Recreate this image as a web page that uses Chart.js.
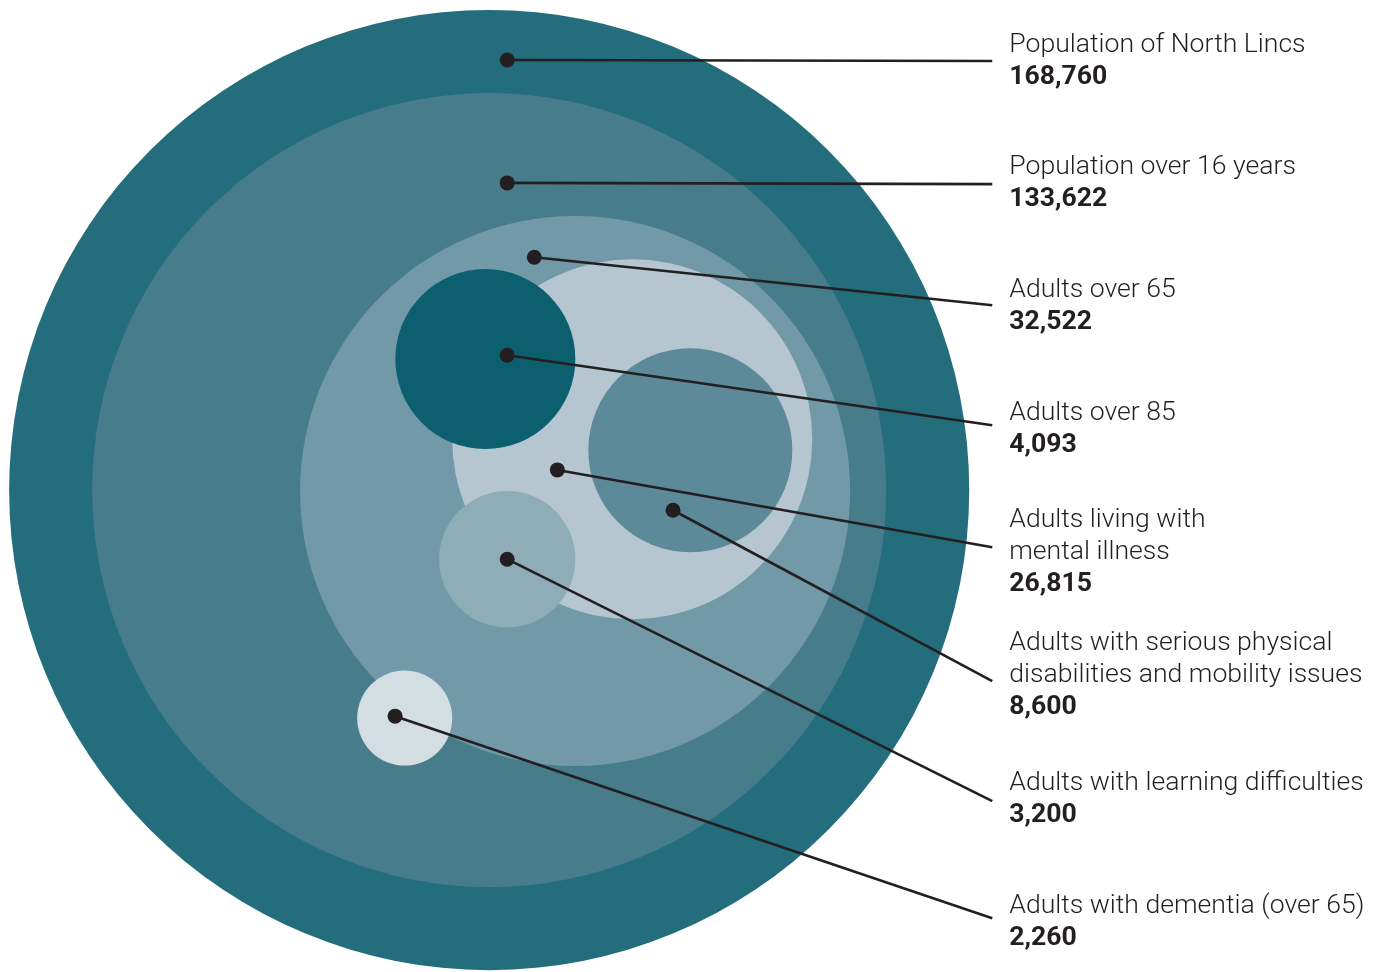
<!DOCTYPE html>
<html>
<head>
<meta charset="utf-8">
<script src="https://cdn.jsdelivr.net/npm/chart.js@4/dist/chart.umd.min.js"></script>
<style>
  html, body { margin: 0; padding: 0; background: #fff; }
  #wrap { width: 1384px; height: 972px; position: relative; }
</style>
</head>
<body>
<div id="wrap"><canvas id="canvasbubbles"></canvas></div>
<script>
// groups, in the order the labels run down the right side
var categories = [
  'Population of North Lincs',
  'Population over 16 years',
  'Adults over 65',
  'Adults over 85',
  'Adults living with mental illness',
  'Adults with serious physical disabilities and mobility issues',
  'Adults with learning difficulties',
  'Adults with dementia (over 65)'
];
var values = [168760, 133622, 32522, 4093, 26815, 8600, 3200, 2260];

// circles, in chart units (outer circle = radius 100, centred on 0,0)
var circleX = [0, 0, 17.9, -0.8, 29.8, 41.9, 3.75, -17.6];
var circleY = [0, 0, -0.2, 27.3, 10.6, 8.3, -14.4, -47.5];
var circleSize = [100, 82.7, 57.3, 18.75, 37.5, 21.25, 14.2, 9.9];

// where each leader line starts (the dot)
var dotX = [3.75, 3.75, 9.4, 3.75, 14.2, 38.3, 3.75, -19.6];
var dotY = [89.6, 64.0, 48.5, 28.1, 4.2, -4.2, -14.4, -47.1];

// label lines shown on the right
var labelLines = [
  ['Population of North Lincs'],
  ['Population over 16 years'],
  ['Adults over 65'],
  ['Adults over 85'],
  ['Adults living with', 'mental illness'],
  ['Adults with serious physical', 'disabilities and mobility issues'],
  ['Adults with learning difficulties'],
  ['Adults with dementia (over 65)']
];

// layout / style
var colors = ['#246d7d', '#477c8b', '#7199a7', '#0b5f6f', '#b5c6d0', '#5c8a99', '#8fadb9', '#d3dee3'];
var lineEndX = 104.8;
var lineEndY = [89.4, 63.75, 38.5, 13.5, -11.9, -39.8, -64.8, -89.2];
var textShift = [-9, -10, -8, -5, -20, -31, -11, -5]; // px from line end to first baseline
var ink = '#231f20';

// draw big circles first so the small ones sit on top
var circleOrder = circleSize.map(function(s, i) { return i; })
  .sort(function(a, b) { return circleSize[b] - circleSize[a]; });

var circleData = circleOrder.map(function(i) {
  return { x: circleX[i], y: circleY[i], size: circleSize[i] };
});
var circleColors = circleOrder.map(function(i) { return colors[i]; });

var datasets = [];
datasets.push({
  data: circleData,
  pointBackgroundColor: circleColors,
  pointBorderWidth: 0,
  showLine: false,
  order: 10,
  pointRadius: function(c) {
    var d = c.raw;
    var s = c.chart.scales.x;
    if (!d || !s) return 0;
    var r = Math.abs(s.getPixelForValue(d.x + d.size) - s.getPixelForValue(d.x));
    return isFinite(r) ? r : 0;
  }
});

categories.forEach(function(cat, i) {
  datasets.push({
    label: cat,
    data: [{ x: dotX[i], y: dotY[i] }, { x: lineEndX, y: lineEndY[i] }],
    showLine: true,
    borderColor: ink,
    borderWidth: 2.6,
    pointRadius: 0,
    order: 5
  });
});

datasets.push({
  data: dotX.map(function(x, i) { return { x: x, y: dotY[i] }; }),
  pointBackgroundColor: ink,
  pointBorderWidth: 0,
  pointRadius: 7.5,
  showLine: false,
  order: 1
});

var labelPlugin = {
  id: 'sideLabels',
  afterDraw: function(chart) {
    var ctx = chart.ctx;
    var xs = chart.scales.x, ys = chart.scales.y;
    ctx.save();
    ctx.fillStyle = ink;
    ctx.textAlign = 'left';
    ctx.textBaseline = 'alphabetic';
    categories.forEach(function(cat, i) {
      var px = xs.getPixelForValue(lineEndX) + 17;
      var py = ys.getPixelForValue(lineEndY[i]) + textShift[i];
      ctx.font = '300 26.6px Roboto';
      labelLines[i].forEach(function(t, k) {
        ctx.fillText(t, px, py + k * 32);
      });
      ctx.font = 'bold 26.6px Roboto';
      ctx.fillText(values[i].toLocaleString('en-GB'), px, py + labelLines[i].length * 32);
    });
    ctx.restore();
  }
};

var ctx = document.getElementById('canvasbubbles').getContext('2d');
var bubbleChart = new Chart(ctx, {
  type: 'scatter',
  data: { datasets: datasets },
  options: {
    responsive: true,
    maintainAspectRatio: false,
    animation: false,
    events: [],
    clip: false,
    layout: { padding: 0, autoPadding: false },
    plugins: {
      legend: { display: false },
      tooltip: { enabled: false }
    },
    scales: {
      x: { type: 'linear', min: -101.9, max: 186.4, display: false },
      y: { type: 'linear', min: -100.4, max: 102.1, display: false }
    }
  },
  plugins: [labelPlugin]
});
</script>
</body>
</html>
